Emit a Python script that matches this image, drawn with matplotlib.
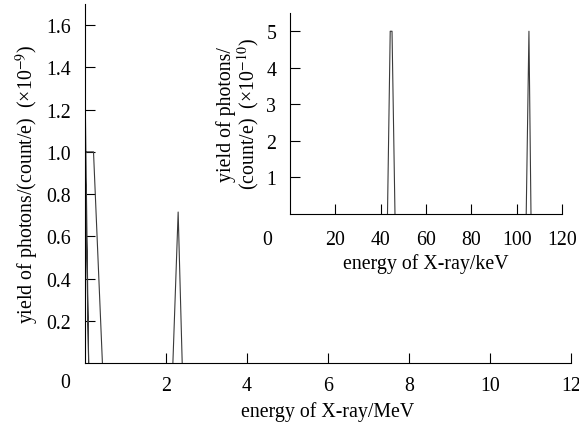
import matplotlib
matplotlib.use("Agg")
import matplotlib.pyplot as plt

plt.rcParams['font.family'] = ['Liberation Serif', 'DejaVu Serif']
plt.rcParams['mathtext.fontset'] = 'stix'

# main spectrum (MeV, x1e-9), one list per peak
low_peak_mev = [0.0, 0.09, 0.0, 0.21, 0.43]
low_peak_yield = [1.32, 0.0, 1.0, 1.0, 0.0]
high_peak_mev = [2.17, 2.30, 2.40]
high_peak_yield = [0.0, 0.715, 0.0]

# inset spectrum (keV, x1e-10)
kev_peak1 = [43.0, 44.2, 45.0, 46.3]
kev_peak1_yield = [0.0, 5.0, 5.0, 0.0]
kev_peak2 = [104.2, 105.4, 106.3]
kev_peak2_yield = [0.0, 5.0, 0.0]

main_xticks = [2, 4, 6, 8, 10, 12]
main_yticks = [0.2, 0.4, 0.6, 0.8, 1.0, 1.2, 1.4, 1.6]
inset_xticks = [20, 40, 60, 80, 100, 120]
inset_yticks = [1, 2, 3, 4, 5]

fs = 14.3
lc = '#3a3a3a'
fig = plt.figure(figsize=(5.79, 4.27), dpi=100)

ax = fig.add_axes([0.1468, 0.1475, 0.8394, 0.8407])
ax.plot(low_peak_mev, low_peak_yield, color=lc, lw=0.8)
ax.plot(high_peak_mev, high_peak_yield, color=lc, lw=0.8)
ax.set_xlim(0, 12)
ax.set_ylim(0, 1.7)
ax.set_xticks(main_xticks)
ax.set_yticks(main_yticks)
ax.set_yticklabels([f"{v:.1f}" for v in main_yticks])
ax.tick_params(direction='in', length=7, width=0.8, labelsize=fs, pad=10)
ax.tick_params(axis='x', pad=9)
for s in ['top', 'right']:
    ax.spines[s].set_visible(False)
ax.set_xlabel("energy of X-ray/MeV", fontsize=fs, labelpad=5)
ax.set_ylabel("yield of photons/(count/e)  (×10$^{-9}$)", fontsize=fs, labelpad=4)
ax.text(-0.5, -0.09, "0", fontsize=fs, ha='center', va='center', clip_on=False)

ins = fig.add_axes([0.5009, 0.4972, 0.4698, 0.470])
ins.plot(kev_peak1, kev_peak1_yield, color=lc, lw=0.8)
ins.plot(kev_peak2, kev_peak2_yield, color=lc, lw=0.8)
ins.set_xlim(0, 120)
ins.set_ylim(0, 5.5)
ins.set_xticks(inset_xticks)
ins.set_yticks(inset_yticks)
ins.tick_params(direction='in', length=7, width=0.8, labelsize=fs, pad=10)
ins.tick_params(axis='x', pad=12)
for s in ['top', 'right']:
    ins.spines[s].set_visible(False)
ins.set_xlabel("energy of X-ray/keV", fontsize=fs, labelpad=3)
ins.set_ylabel("yield of photons/\n(count/e)  (×10$^{-10}$)", fontsize=fs,
               labelpad=4, linespacing=0.95)
ins.text(-10, -0.7, "0", fontsize=fs, ha='center', va='center', clip_on=False)

fig.savefig("out.png", dpi=100)
